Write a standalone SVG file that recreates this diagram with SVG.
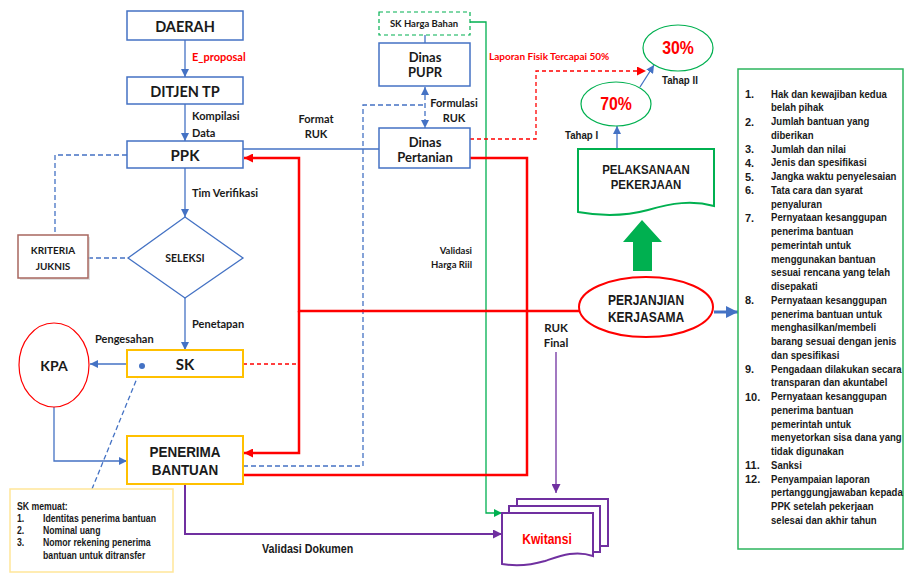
<svg xmlns="http://www.w3.org/2000/svg" width="904" height="575" viewBox="0 0 904 575">
<defs>
<style>
.bx{fill:#fff;stroke:#4472C4;stroke-width:1.5}
.c{font-family:Lato,"Open Sans",sans-serif;font-weight:bold;fill:#1a1a1a}
.a{font-family:"Liberation Sans",Arial,sans-serif;font-weight:bold;fill:#1a1a1a}
.m{text-anchor:middle}
.red{fill:#FF0000}
.bl{fill:none;stroke:#4472C4;stroke-width:1.3}
.bd{fill:none;stroke:#4472C4;stroke-width:1.3;stroke-dasharray:5 3}
.rd{fill:none;stroke:#FF0000;stroke-width:2.5}
.rdd{fill:none;stroke:#FF0000;stroke-width:1.3;stroke-dasharray:4 3}
.gr{fill:none;stroke:#00B050;stroke-width:1.3}
.pu{fill:none;stroke:#7030A0;stroke-width:2}
.pu1{fill:none;stroke:#7030A0;stroke-width:1.3}
</style>
<marker id="mb" viewBox="0 0 10 10" refX="10" refY="5" markerWidth="8" markerHeight="8" markerUnits="userSpaceOnUse" orient="auto-start-reverse"><path d="M0,0 L10,5 L0,10 z" fill="#4472C4"/></marker>
<marker id="mbt" viewBox="0 0 10 10" refX="10" refY="5" markerWidth="12" markerHeight="12" markerUnits="userSpaceOnUse" orient="auto"><path d="M0,0 L10,5 L0,10 z" fill="#4472C4"/></marker>
<marker id="mr" viewBox="0 0 10 10" refX="10" refY="5" markerWidth="9" markerHeight="9" markerUnits="userSpaceOnUse" orient="auto"><path d="M0,0 L10,5 L0,10 z" fill="#FF0000"/></marker>
<marker id="mp" viewBox="0 0 10 10" refX="10" refY="5" markerWidth="9" markerHeight="9" markerUnits="userSpaceOnUse" orient="auto"><path d="M0,0 L10,5 L0,10 z" fill="#7030A0"/></marker>
<marker id="mg" viewBox="0 0 10 10" refX="10" refY="5" markerWidth="8" markerHeight="8" markerUnits="userSpaceOnUse" orient="auto"><path d="M0,0 L10,5 L0,10 z" fill="#00B050"/></marker>
</defs>
<rect width="904" height="575" fill="#fff"/>

<g id="connectors">
<!-- blue solid -->
<line class="bl" x1="185" y1="40" x2="185" y2="77" marker-end="url(#mb)"/>
<line class="bl" x1="185" y1="104" x2="185" y2="141" marker-end="url(#mb)"/>
<line class="bl" x1="185" y1="168" x2="185" y2="217" marker-end="url(#mb)"/>
<line class="bl" x1="185" y1="298" x2="185" y2="350" marker-end="url(#mb)"/>
<line class="bl" x1="127" y1="364" x2="90" y2="364" marker-end="url(#mb)"/>
<polyline class="bl" points="54,407 54,461 127,461" marker-end="url(#mb)"/>
<line class="bl" x1="243" y1="149" x2="379" y2="149"/>
<line class="bl" x1="425" y1="35" x2="425" y2="43"/>
<line class="bl" x1="617" y1="149" x2="617" y2="126" marker-end="url(#mb)"/>
<line class="bl" x1="640" y1="87" x2="654" y2="65" marker-end="url(#mb)"/>
<line x1="714" y1="312" x2="738" y2="312" stroke="#4472C4" stroke-width="3" marker-end="url(#mbt)"/>
<!-- blue dashed -->
<polyline class="bd" points="127,155 55,155 55,235"/>
<line class="bd" x1="88" y1="258" x2="128" y2="258"/>
<line class="bd" x1="142" y1="366" x2="92" y2="489"/>
<circle cx="142" cy="366" r="3" fill="#4472C4"/>
<polyline class="bd" points="243,466 363,466 363,105 425,105"/>
<line class="bd" x1="425" y1="87" x2="425" y2="128" marker-start="url(#mb)" marker-end="url(#mb)"/>
<!-- green -->
<polyline class="gr" points="470,22 486,22 486,513 502,513" marker-end="url(#mg)"/>
<!-- red solid -->
<polyline class="rd" points="579,311 299,311 299,158 244,158" marker-end="url(#mr)"/>
<polyline class="rd" points="299,311 299,453 244,453" marker-end="url(#mr)"/>
<polyline class="rd" points="470,158 527,158 527,475 243,475"/>
<!-- red dashed -->
<line class="rdd" x1="243" y1="364" x2="299" y2="364"/>
<polyline class="rdd" points="470,139 536,139 536,71 646,71" marker-end="url(#mr)"/>
<!-- purple -->
<polyline class="pu" points="185,484 185,534 502,534" marker-end="url(#mp)"/>
<line class="pu1" x1="556" y1="352" x2="556" y2="493" marker-end="url(#mp)"/>
<!-- green big arrow -->
<polygon points="642,220 662,242 652,242 652,271 633,271 633,242 623,242" fill="#00B050"/>
</g>

<g id="labels">
<text class="c red" x="192" y="56" font-size="11" dominant-baseline="central">E_proposal</text>
<text class="c" x="192" y="115" font-size="11" dominant-baseline="central">Kompilasi</text>
<text class="c" x="192" y="132" font-size="11" dominant-baseline="central">Data</text>
<text class="c m" x="316" y="118" font-size="11" dominant-baseline="central">Format</text>
<text class="c m" x="316" y="133" font-size="11" dominant-baseline="central">RUK</text>
<text class="c" x="192" y="192" font-size="11" dominant-baseline="central">Tim Verifikasi</text>
<text class="c" x="192" y="323" font-size="11" dominant-baseline="central">Penetapan</text>
<text class="c" x="95" y="338" font-size="11" dominant-baseline="central">Pengesahan</text>
<text class="c m" x="454" y="102" font-size="11" dominant-baseline="central">Formulasi</text>
<text class="c m" x="454" y="117" font-size="11" dominant-baseline="central">RUK</text>
<text class="c red" x="489" y="56" font-size="10" dominant-baseline="central">Laporan Fisik Tercapai 50%</text>
<text class="c" x="472" y="250" font-size="9.5" text-anchor="end" dominant-baseline="central">Validasi</text>
<text class="c" x="472" y="264" font-size="9.5" text-anchor="end" dominant-baseline="central">Harga Riil</text>
<text class="c m" x="556" y="327" font-size="11.5" dominant-baseline="central">RUK</text>
<text class="c m" x="556" y="342" font-size="11.5" dominant-baseline="central">Final</text>
<text class="a" transform="translate(565,135) scale(0.88 1)" font-size="11" dominant-baseline="central">Tahap I</text>
<text class="a" transform="translate(662,80) scale(0.88 1)" font-size="11" dominant-baseline="central">Tahap II</text>
<text class="a" transform="translate(262,549) scale(0.89 1)" font-size="12" dominant-baseline="central">Validasi Dokumen</text>
</g>

<g id="daerah"><rect class="bx" x="127" y="11" width="116" height="29"/><text class="c m" x="185" y="26" font-size="14.5" dominant-baseline="central">DAERAH</text></g>
<g id="ditjen"><rect class="bx" x="127" y="77" width="116" height="27" stroke-width="2.5"/><text class="c m" x="185" y="91" font-size="14.5" dominant-baseline="central">DITJEN TP</text></g>
<g id="ppk"><rect class="bx" x="127" y="141" width="116" height="27"/><text class="c m" x="185" y="155" font-size="15" dominant-baseline="central">PPK</text></g>
<g id="seleksi"><polygon points="185,217 243,258 185,298 128,258" fill="#fff" stroke="#4472C4" stroke-width="1.3"/><text class="c m" x="185" y="258" font-size="10.5" dominant-baseline="central">SELEKSI</text></g>
<g id="kriteria"><rect x="20" y="237" width="70" height="43" fill="#ccc" opacity="0.6"/><rect x="18" y="235" width="70" height="43" fill="#fff" stroke="#A8675F" stroke-width="1.5"/><text class="c m" x="53" y="250" font-size="10" dominant-baseline="central">KRITERIA</text><text class="c m" x="53" y="266" font-size="10" dominant-baseline="central">JUKNIS</text></g>
<g id="sk"><rect x="127" y="350" width="116" height="27" fill="#fff" stroke="#FFC000" stroke-width="2"/><text class="c m" x="185" y="364" font-size="15" dominant-baseline="central">SK</text><circle cx="142" cy="366" r="3" fill="#4472C4"/></g>
<g id="kpa"><ellipse cx="54" cy="365" rx="35" ry="42" fill="#fff" stroke="#FF0000" stroke-width="1.2"/><text class="c m" x="54" y="365" font-size="14" dominant-baseline="central">KPA</text></g>
<g id="penerima"><rect x="127" y="436" width="116" height="48" fill="#fff" stroke="#FFC000" stroke-width="2"/><text class="a m" transform="translate(185,452) scale(0.9 1)" font-size="15" dominant-baseline="central">PENERIMA</text><text class="a m" transform="translate(185,470) scale(0.9 1)" font-size="15" dominant-baseline="central">BANTUAN</text></g>
<g id="skmemuat"><rect x="10" y="489" width="163" height="83" fill="#fff" stroke="#FFE699" stroke-width="1.5"/>
<g class="a" font-size="10">
<text transform="translate(17,507) scale(0.87 1)" dominant-baseline="central">SK memuat:</text>
<text transform="translate(17,519) scale(0.87 1)" dominant-baseline="central">1.</text>
<text transform="translate(43,519) scale(0.87 1)" dominant-baseline="central">Identitas penerima bantuan</text>
<text transform="translate(17,531) scale(0.87 1)" dominant-baseline="central">2.</text>
<text transform="translate(43,531) scale(0.87 1)" dominant-baseline="central">Nominal uang</text>
<text transform="translate(17,543) scale(0.87 1)" dominant-baseline="central">3.</text>
<text transform="translate(43,543) scale(0.87 1)" dominant-baseline="central">Nomor rekening penerima</text>
<text transform="translate(43,556) scale(0.87 1)" dominant-baseline="central">bantuan untuk ditransfer</text>
</g></g>
<g id="skharga"><rect x="379" y="12" width="91" height="23" fill="#fff" stroke="#00B050" stroke-width="1.2" stroke-dasharray="4 3"/><text class="c m" x="424" y="23" font-size="9.5" dominant-baseline="central">SK Harga Bahan</text></g>
<g id="pupr"><rect class="bx" x="379" y="43" width="91" height="43"/><text class="c m" x="425" y="57" font-size="13" dominant-baseline="central">Dinas</text><text class="c m" x="425" y="72" font-size="13" dominant-baseline="central">PUPR</text></g>
<g id="pertanian"><rect class="bx" x="379" y="128" width="91" height="40"/><text class="c m" x="425" y="142" font-size="13" dominant-baseline="central">Dinas</text><text class="c m" x="425" y="157" font-size="13" dominant-baseline="central">Pertanian</text></g>
<g id="p30"><ellipse cx="678" cy="48" rx="35" ry="23" fill="#fff" stroke="#00B050" stroke-width="1.2"/><text class="a m red" transform="translate(678,48) scale(0.88 1)" font-size="18" dominant-baseline="central">30%</text></g>
<g id="p70"><ellipse cx="616" cy="104" rx="35" ry="22" fill="#fff" stroke="#00B050" stroke-width="1.2"/><text class="a m red" transform="translate(616,104) scale(0.88 1)" font-size="18" dominant-baseline="central">70%</text></g>
<g id="pelaksanaan"><path d="M578,149 H714 V206 C692,200 672,203 648,210 C622,217 600,216 578,212 Z" fill="#fff" stroke="#00B050" stroke-width="2"/><text class="a m" transform="translate(646,170) scale(0.88 1)" font-size="13" dominant-baseline="central">PELAKSANAAN</text><text class="a m" transform="translate(646,185) scale(0.88 1)" font-size="13" dominant-baseline="central">PEKERJAAN</text></g>
<g id="perjanjian"><ellipse cx="646" cy="307" rx="67" ry="30" fill="#fff" stroke="#FF0000" stroke-width="2"/><text class="a m" transform="translate(646,300) scale(0.86 1)" font-size="14" dominant-baseline="central">PERJANJIAN</text><text class="a m" transform="translate(646,317) scale(0.86 1)" font-size="14" dominant-baseline="central">KERJASAMA</text></g>
<g id="kwitansi">
<rect x="517" y="499" width="91" height="47" fill="#fff" stroke="#7030A0" stroke-width="2"/>
<rect x="509" y="506" width="91" height="46" fill="#fff" stroke="#7030A0" stroke-width="2"/>
<path d="M502,513 H593 V556 C575,550 560,556 545,561 C528,566 514,566 502,564 Z" fill="#fff" stroke="#7030A0" stroke-width="2"/>
<text class="a m red" transform="translate(547,539) scale(0.86 1)" font-size="14" dominant-baseline="central">Kwitansi</text>
</g>
<g id="list"><rect x="738" y="69" width="165" height="480" fill="#fff" stroke="#2DB55D" stroke-width="1.5"/>
<g class="a" font-size="11" dominant-baseline="central">
<text x="745" y="94">1.</text><text transform="translate(771,94) scale(0.87 1)">Hak dan kewajiban kedua</text>
<text transform="translate(771,107.75) scale(0.87 1)">belah pihak</text>
<text x="745" y="121.5">2.</text><text transform="translate(771,121.5) scale(0.87 1)">Jumlah bantuan yang</text>
<text transform="translate(771,135.25) scale(0.87 1)">diberikan</text>
<text x="745" y="149">3.</text><text transform="translate(771,149) scale(0.87 1)">Jumlah dan nilai</text>
<text x="745" y="162.75">4.</text><text transform="translate(771,162.75) scale(0.87 1)">Jenis dan spesifikasi</text>
<text x="745" y="176.5">5.</text><text transform="translate(771,176.5) scale(0.87 1)">Jangka waktu penyelesaian</text>
<text x="745" y="190.25">6.</text><text transform="translate(771,190.25) scale(0.87 1)">Tata cara dan syarat</text>
<text transform="translate(771,204) scale(0.87 1)">penyaluran</text>
<text x="745" y="217.75">7.</text><text transform="translate(771,217.75) scale(0.87 1)">Pernyataan kesanggupan</text>
<text transform="translate(771,231.5) scale(0.87 1)">penerima bantuan</text>
<text transform="translate(771,245.25) scale(0.87 1)">pemerintah untuk</text>
<text transform="translate(771,259) scale(0.87 1)">menggunakan bantuan</text>
<text transform="translate(771,272.75) scale(0.87 1)">sesuai rencana yang telah</text>
<text transform="translate(771,286.5) scale(0.87 1)">disepakati</text>
<text x="745" y="300.25">8.</text><text transform="translate(771,300.25) scale(0.87 1)">Pernyataan kesanggupan</text>
<text transform="translate(771,314) scale(0.87 1)">penerima bantuan untuk</text>
<text transform="translate(771,327.75) scale(0.87 1)">menghasilkan/membeli</text>
<text transform="translate(771,341.5) scale(0.87 1)">barang sesuai dengan jenis</text>
<text transform="translate(771,355.25) scale(0.87 1)">dan spesifikasi</text>
<text x="745" y="369">9.</text><text transform="translate(771,369) scale(0.87 1)">Pengadaan dilakukan secara</text>
<text transform="translate(771,382.75) scale(0.87 1)">transparan dan akuntabel</text>
<text x="745" y="396.5">10.</text><text transform="translate(771,396.5) scale(0.87 1)">Pernyataan kesanggupan</text>
<text transform="translate(771,410.25) scale(0.87 1)">penerima bantuan</text>
<text transform="translate(771,424) scale(0.87 1)">pemerintah untuk</text>
<text transform="translate(771,437.75) scale(0.87 1)">menyetorkan sisa dana yang</text>
<text transform="translate(771,451.5) scale(0.87 1)">tidak digunakan</text>
<text x="745" y="465.25">11.</text><text transform="translate(771,465.25) scale(0.87 1)">Sanksi</text>
<text x="745" y="479">12.</text><text transform="translate(771,479) scale(0.87 1)">Penyampaian laporan</text>
<text transform="translate(771,492.75) scale(0.87 1)">pertanggungjawaban kepada</text>
<text transform="translate(771,506.5) scale(0.87 1)">PPK setelah pekerjaan</text>
<text transform="translate(771,520.25) scale(0.87 1)">selesai dan akhir tahun</text>
</g></g>
</svg>
